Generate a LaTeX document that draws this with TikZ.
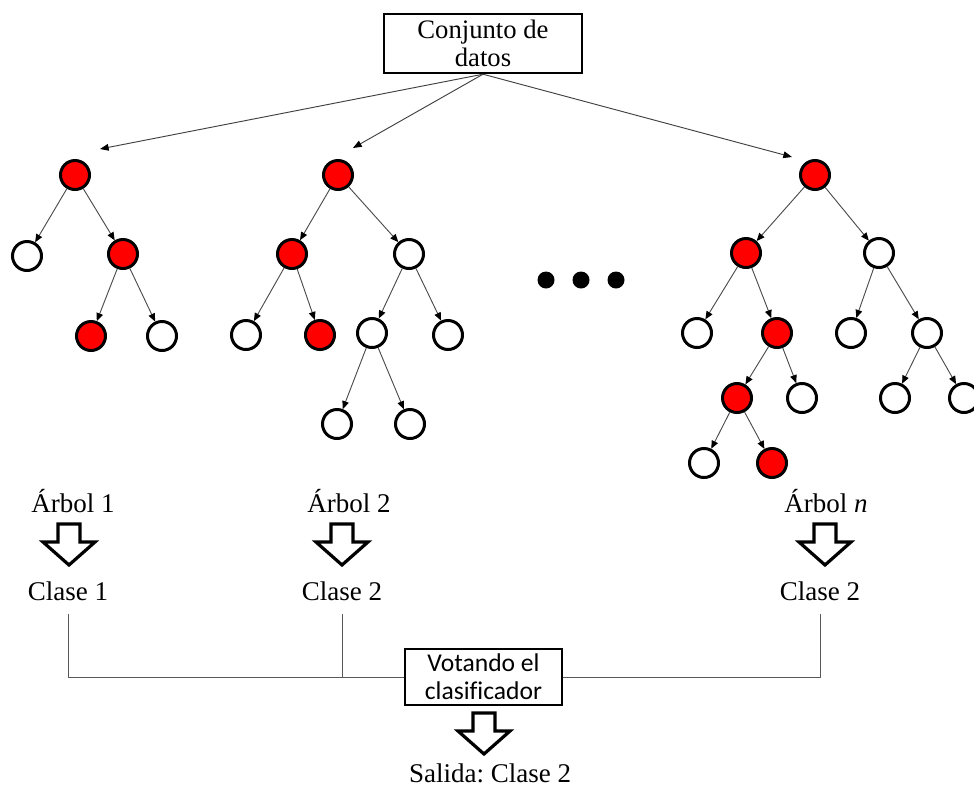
\documentclass[tikz,border=0pt]{standalone}
\usepackage{fontspec}
\setmainfont{Liberation Serif}
\newfontfamily\votefont[Ligatures=NoCommon]{Carlito}
\usetikzlibrary{arrows.meta}

\tikzset{
  leaf/.style={circle,draw=black,line width=2.25pt,minimum size=21.75pt,inner sep=0pt,fill=white},
  hit/.style={leaf,fill=red},
  dotmark/.style={circle,fill=black,minimum size=12.75pt,inner sep=0pt},
  edge/.style={draw=black!70,line width=0.7pt,-{Triangle[length=6pt,width=5pt,color=black]}},
  feed/.style={draw=black!75,line width=0.7pt,-{Triangle[length=6.5pt,width=5pt,color=black]}},
  wire/.style={draw=black!65,line width=0.75pt},
  lbl/.style={inner sep=0pt,anchor=base,font=\frenchspacing\fontsize{20.25pt}{21pt}\selectfont},
  databox/.style={draw=black,line width=1.8pt,minimum width=148.5pt,minimum height=44.25pt,
    inner sep=0pt,align=center,font=\fontsize{20pt}{21pt}\selectfont},
  votebox/.style={draw=black,line width=1.5pt,minimum width=117.75pt,minimum height=42pt,
    inner sep=0pt,align=center,font=\votefont\fontsize{19.2pt}{21pt}\selectfont},
  blockarrow/.pic={
    \draw[line width=2.4pt,fill=white,line join=miter]
      (-11,0) -- (11,0) -- (11,18) -- (26,18) -- (0,41) -- (-26,18) -- (-11,18) -- cycle;
  }
}

\begin{document}
\begin{tikzpicture}[x=0.75pt,y=-0.75pt]
\useasboundingbox (0,0) rectangle (974,790);

% data set
\node[databox] (data) at (483,43.5) {Conjunto de\\datos};

% tree 1
\node[hit]  (t1r)  at (75,175) {};
\node[leaf] (t1a)  at (27,256) {};
\node[hit]  (t1b)  at (123,254) {};
\node[hit]  (t1ba) at (91,336) {};
\node[leaf] (t1bb) at (162,336) {};
\foreach \p/\c in {t1r/t1a,t1r/t1b,t1b/t1ba,t1b/t1bb}
  \draw[edge] (\p) -- (\c);

% tree 2
\node[hit]  (t2r)   at (338,175) {};
\node[hit]  (t2a)   at (292,254) {};
\node[leaf] (t2b)   at (409,254) {};
\node[leaf] (t2aa)  at (246,335) {};
\node[hit]  (t2ab)  at (320,335) {};
\node[leaf] (t2ba)  at (372,333) {};
\node[leaf] (t2bb)  at (448,335) {};
\node[leaf] (t2baa) at (337,424) {};
\node[leaf] (t2bab) at (410,424) {};
\foreach \p/\c in {t2r/t2a,t2r/t2b,t2a/t2aa,t2a/t2ab,t2b/t2ba,t2b/t2bb,t2ba/t2baa,t2ba/t2bab}
  \draw[edge] (\p) -- (\c);

% ellipsis between trees
\node[dotmark] (e1) at (546,280) {};
\node[dotmark] (e2) at (581,280) {};
\node[dotmark] (e3) at (616,280) {};

% tree n
\node[hit]  (t3r)    at (815,175) {};
\node[hit]  (t3a)    at (746,253) {};
\node[leaf] (t3b)    at (879,253) {};
\node[leaf] (t3aa)   at (697,333) {};
\node[hit]  (t3ab)   at (777,333) {};
\node[leaf] (t3ba)   at (851,333) {};
\node[leaf] (t3bb)   at (927,333) {};
\node[hit]  (t3aba)  at (737,398) {};
\node[leaf] (t3abb)  at (802,398) {};
\node[leaf] (t3bba)  at (895,398) {};
\node[leaf] (t3bbb)  at (964,398) {};
\node[leaf] (t3abaa) at (704,463) {};
\node[hit]  (t3abab) at (772,463) {};
\foreach \p/\c in {t3r/t3a,t3r/t3b,t3a/t3aa,t3a/t3ab,t3b/t3ba,t3b/t3bb,
                   t3ab/t3aba,t3ab/t3abb,t3bb/t3bba,t3bb/t3bbb,t3aba/t3abaa,t3aba/t3abab}
  \draw[edge] (\p) -- (\c);

% samples sent to each tree
\coordinate (d1) at (100,149);
\coordinate (d2) at (353,148);
\coordinate (d3) at (792,157);
\foreach \d in {d1,d2,d3}
  \draw[feed] (data.south) -- (\d);

% tree names, predictions and votes
\node[lbl] (a1) at (73,512) {Árbol 1};
\node[lbl] (a2) at (349,512) {Árbol 2};
\node[lbl] (a3) at (826,512) {Árbol \textit{n}};
\pic at (69,524) {blockarrow};
\pic at (342,524) {blockarrow};
\pic at (825,524) {blockarrow};
\node[lbl] (c1) at (68,600) {Clase 1};
\node[lbl] (c2) at (342,600) {Clase 2};
\node[lbl] (c3) at (820,600) {Clase 2};

\node[votebox] (vote) at (483.5,677) {Votando el\\clasificador};
\draw[wire] ([yshift=-10pt]c1.south) |- (vote.west);
\draw[wire] ([yshift=-10pt]c2.south) |- (vote.west);
\draw[wire] ([yshift=-10pt]c3.south) |- (vote.east);

\pic at (484,713) {blockarrow};
\node[lbl] (out) at (490,782) {Salida: Clase 2};
\end{tikzpicture}
\end{document}
